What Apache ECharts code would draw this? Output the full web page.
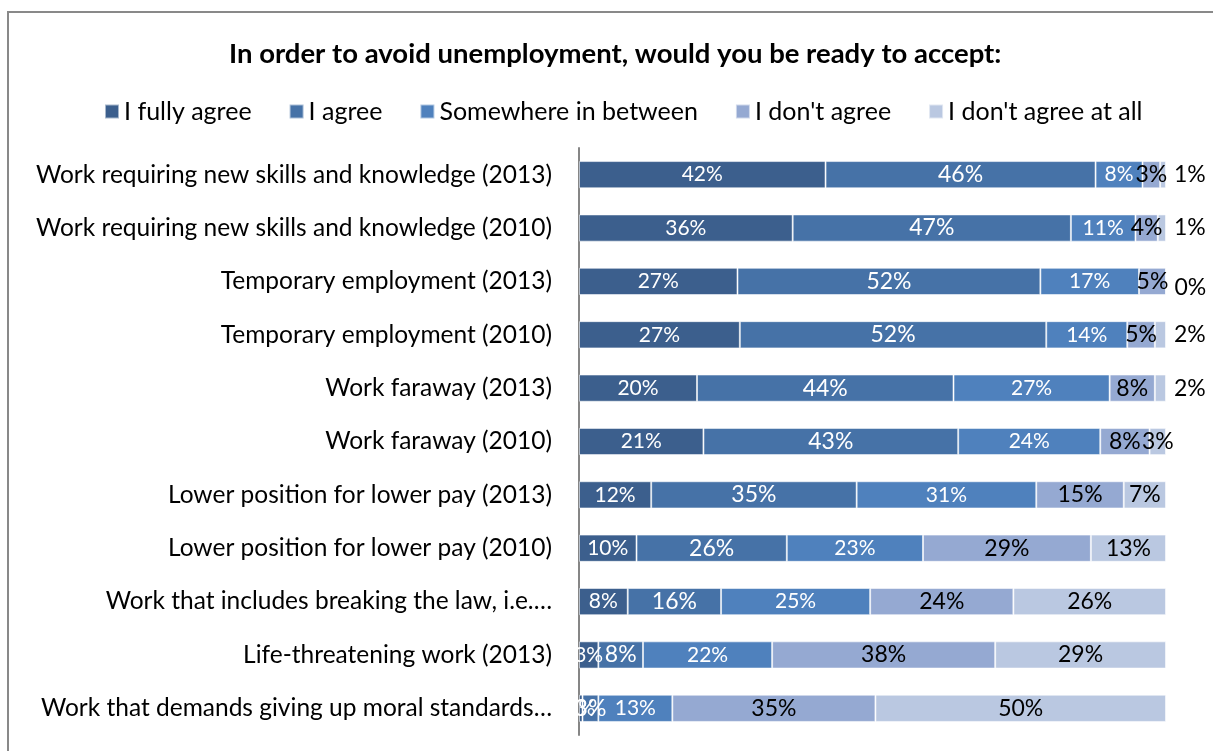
<!DOCTYPE html>
<html><head><meta charset="utf-8">
<script src="https://cdn.jsdelivr.net/npm/echarts@6/dist/echarts.min.js"></script>
<style>html,body{margin:0;padding:0;background:#fff}#c{width:1213px;height:751px}</style>
</head><body><div id="c"></div>
<script>
const categories = [
  'Work requiring new skills and knowledge (2013)',
  'Work requiring new skills and knowledge (2010)',
  'Temporary employment (2013)',
  'Temporary employment (2010)',
  'Work faraway (2013)',
  'Work faraway (2010)',
  'Lower position for lower pay (2013)',
  'Lower position for lower pay (2010)',
  'Work that includes breaking the law, i.e.…',
  'Life-threatening work (2013)',
  'Work that demands giving up moral standards…'
];
const seriesNames = ['I fully agree', 'I agree', 'Somewhere in between', "I don't agree", "I don't agree at all"];
const fullyAgree   = [42, 36.4, 27,   27.4, 20.1, 21.2, 12.3, 9.8,  8.3,  3.3,  0.6];
const agree        = [46, 47.4, 51.6, 52.2, 43.7, 43.4, 35.0, 25.6, 15.9, 7.6,  2.7];
const inBetween    = [8,  11.0, 16.8, 13.8, 26.6, 24.2, 30.6, 23.2, 25.4, 22.0, 12.6];
const disagree     = [3,  3.8,  4.6,  4.7,  7.7,  8.4,  14.9, 28.6, 24.4, 38.0, 34.6];
const disagreeAll  = [1,  1.4,  0,    1.9,  1.9,  2.8,  7.2,  12.8, 26.0, 29.1, 49.5];

const colors = ['#3C5F8D', '#4672A7', '#4F81BD', '#95A9D2', '#BAC8E1'];
const labelColors = ['#fff', '#fff', '#fff', '#000', '#000'];
const labelSizes = [21, 23, 21, 23, 23];
const FONT = 'Lato';

const allData = [fullyAgree, agree, inBetween, disagree, disagreeAll];

const series = allData.map((arr, si) => ({
  name: seriesNames[si],
  type: 'bar',
  stack: 'total',
  barCategoryGap: '49%',
  itemStyle: { color: colors[si], borderColor: 'rgba(255,255,255,0.55)', borderWidth: 1 },
  label: {
    show: true,
    position: 'inside',
    color: labelColors[si],
    fontFamily: FONT,
    fontSize: labelSizes[si],
    formatter: p => Math.round(p.value) + '%'
  },
  data: arr.map((v, i) => {
    if (si === 4 && i < 5) {
      return { value: v, label: { position: 'right', distance: 8, offset: i === 2 ? [0, 6] : [0, 0] } };
    }
    return v;
  })
}));

const chart = echarts.init(document.getElementById('c'), null, { renderer: 'canvas' });
chart.setOption({
  animation: false,
  color: colors,
  title: {
    text: 'In order to avoid unemployment, would you be ready to accept:',
    left: 224,
    top: 35,
    textStyle: { fontFamily: FONT, fontWeight: 'bold', fontSize: 27.5, color: '#000' }
  },
  legend: {
    data: seriesNames,
    left: 99,
    top: 94,
    icon: 'rect',
    itemWidth: 14,
    itemHeight: 14,
    itemGap: 37,
    textStyle: { fontFamily: FONT, fontSize: 25, color: '#000' }
  },
  grid: { left: 579, right: 47, top: 148, bottom: 16, containLabel: false },
  xAxis: { type: 'value', min: 0, max: 100, show: false },
  yAxis: {
    type: 'category',
    inverse: true,
    data: categories,
    axisLine: { show: true, lineStyle: { color: '#868686', width: 2 } },
    axisTick: { show: false },
    axisLabel: { fontFamily: FONT, fontSize: 24.5, color: '#000', margin: 27 }
  },
  graphic: [{
    type: 'rect',
    shape: { x: 8, y: 12, width: 1300, height: 800 },
    style: { fill: 'none', stroke: '#898989', lineWidth: 2 },
    z: -10
  }],
  series: series
});
</script></body></html>
